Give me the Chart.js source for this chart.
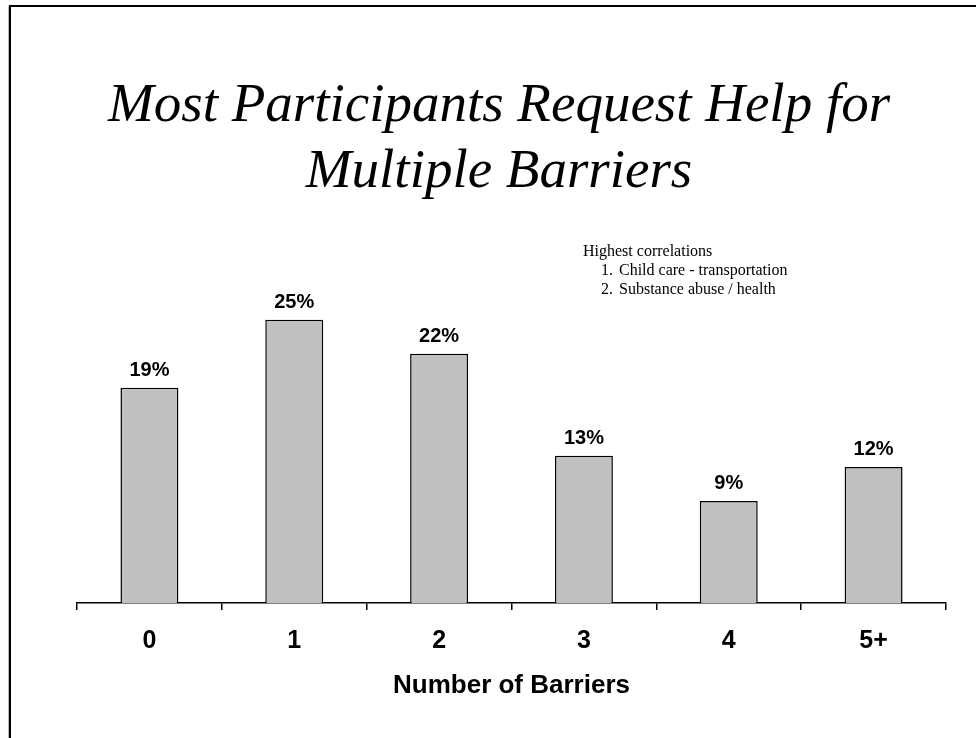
<!DOCTYPE html>
<html>
<head>
<meta charset="utf-8">
<title>Most Participants Request Help for Multiple Barriers</title>
<script src="https://cdn.jsdelivr.net/npm/chart.js@4"></script>
<style>
  html, body { margin: 0; padding: 0; background: #fff; }
  #wrap { width: 976px; height: 738px; position: relative; }
</style>
</head>
<body>
<div id="wrap"><canvas id="barChart" width="976" height="738"></canvas></div>
<script>
// Chart data
const barriers = ['0', '1', '2', '3', '4', '5+'];
const percentShares = [19, 25, 22, 13, 9, 12];
const titleLines = ['Most Participants Request Help for', 'Multiple Barriers'];
const noteHeading = 'Highest correlations';
const noteItems = ['Child care - transportation', 'Substance abuse / health'];

// Slide frame, title and note box
const slideText = {
  id: 'slideText',
  beforeDraw(chart) {
    const c = chart.ctx;
    c.save();
    c.fillStyle = '#fff';
    c.fillRect(0, 0, chart.width, chart.height);
    c.strokeStyle = '#bbb';
    c.lineWidth = 1;
    c.beginPath();
    c.moveTo(8.5, 6); c.lineTo(8.5, 738);
    c.stroke();
    c.strokeStyle = '#000';
    c.lineWidth = 2;
    c.beginPath();
    c.moveTo(10, 738); c.lineTo(10, 6); c.lineTo(976, 6);
    c.stroke();
    c.restore();
  },
  afterDraw(chart) {
    const c = chart.ctx;
    c.save();
    c.fillStyle = '#000';
    c.textAlign = 'center';
    c.textBaseline = 'alphabetic';
    c.font = 'italic 55px "Liberation Serif", "Times New Roman", serif';
    titleLines.forEach((t, i) => c.fillText(t, 499, 121 + i * 66));

    c.textAlign = 'left';
    c.font = '16px "Liberation Serif", "Times New Roman", serif';
    c.fillText(noteHeading, 583, 256);
    noteItems.forEach((t, i) => {
      c.fillText((i + 1) + '.', 601, 275 + i * 19);
      c.fillText(t, 619, 275 + i * 19);
    });
    c.restore();
  }
};

// Percent labels above each bar
const barLabels = {
  id: 'barLabels',
  afterDatasetsDraw(chart) {
    const c = chart.ctx;
    const meta = chart.getDatasetMeta(0);
    c.save();
    c.fillStyle = '#000';
    c.textAlign = 'center';
    c.textBaseline = 'alphabetic';
    c.font = 'bold 20px "Liberation Sans", Arial, sans-serif';
    meta.data.forEach((bar, i) => {
      c.fillText(percentShares[i] + '%', bar.x, bar.y - 12);
    });
    c.restore();
  }
};

const ctx = document.getElementById('barChart').getContext('2d');
const barChart = new Chart(ctx, {
  type: 'bar',
  data: {
    labels: barriers,
    datasets: [{
      data: percentShares,
      backgroundColor: '#c0c0c0',
      borderColor: '#000',
      borderWidth: 1.5,
      categoryPercentage: 1,
      barPercentage: 0.4
    }]
  },
  options: {
    responsive: false,
    animation: false,
    layout: { padding: { left: 77, right: 30, top: 263, bottom: 0 } },
    plugins: {
      legend: { display: false },
      tooltip: { enabled: false },
      title: { display: false }
    },
    scales: {
      x: {
        offset: true,
        grid: {
          offset: true,
          drawOnChartArea: false,
          drawTicks: true,
          tickLength: 7,
          color: '#000',
          lineWidth: 1.5
        },
        border: { display: true, color: '#000', width: 1.5 },
        ticks: {
          color: '#000',
          padding: 16,
          font: { family: '"Liberation Sans", Arial, sans-serif', size: 25, weight: 'bold' }
        },
        title: {
          display: true,
          text: 'Number of Barriers',
          color: '#000',
          padding: { top: 0, bottom: 37 },
          font: { family: '"Liberation Sans", Arial, sans-serif', size: 26, weight: 'bold' }
        },
        afterFit(scale) { scale.height = 135; }
      },
      y: {
        display: false,
        min: 0,
        max: 30
      }
    }
  },
  plugins: [slideText, barLabels]
});
</script>
</body>
</html>
